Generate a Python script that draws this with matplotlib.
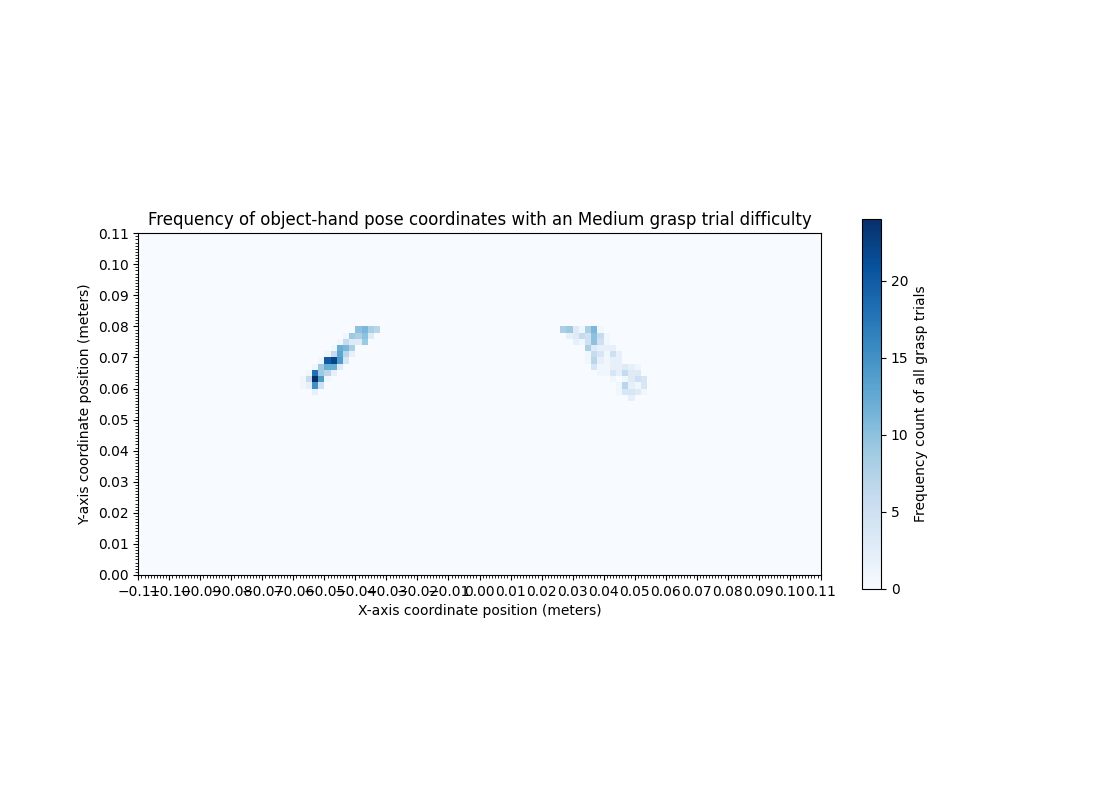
import numpy as np
import matplotlib
matplotlib.use("Agg")
import matplotlib.pyplot as plt
from matplotlib.ticker import MultipleLocator

# ---- data: histogram cells (bin width 0.002 m), per row: y_bottom -> (first x_left, counts)
left_rows_y = [0.078, 0.076, 0.074, 0.072, 0.070, 0.068, 0.066, 0.064, 0.062, 0.060, 0.058]
left_rows_x0 = [-0.040, -0.044, -0.046, -0.048, -0.050, -0.052, -0.054, -0.056, -0.058, -0.058, -0.054]
left_rows_counts = [
    [10, 11, 8, 7],
    [1, 9, 8, 10, 3],
    [1, 6, 3, 3, 9],
    [1, 12, 11, 8],
    [1, 6, 13, 7, 2],
    [1, 20, 22, 14, 4],
    [1, 9, 12, 12, 3],
    [1, 18, 9, 7, 2],
    [1, 6, 24, 14, 1],
    [1, 2, 15, 5],
    [2],
]

right_rows_y = [0.078, 0.076, 0.074, 0.072, 0.070, 0.068, 0.066, 0.064, 0.062, 0.060, 0.058, 0.056]
right_rows_x0 = [0.026, 0.028, 0.030, 0.034, 0.034, 0.034, 0.036, 0.038, 0.042, 0.044, 0.044, 0.048]
right_rows_counts = [
    [8, 9, 3, 1, 8, 11, 1],
    [2, 3, 6, 5, 10, 6, 1],
    [2, 1, 5, 10, 5, 1],
    [8, 3, 2, 2, 2],
    [1, 6, 4, 1, 5, 2],
    [1, 7, 2, 1, 2, 2],
    [4, 1, 1, 2, 2, 3, 2, 1],
    [1, 1, 4, 2, 6, 3, 3],
    [1, 0, 1, 3, 5, 4],
    [1, 7, 2, 1, 4],
    [1, 4, 4, 3, 1],
    [2],
]

x_ticks = np.round(np.arange(-0.11, 0.1101, 0.01), 2)
y_ticks = np.round(np.arange(0.0, 0.1101, 0.01), 2)
bin_w = 0.002
count_max = 24

title = "Frequency of object-hand pose coordinates with an Medium grasp trial difficulty"
xlabel = "X-axis coordinate position (meters)"
ylabel = "Y-axis coordinate position (meters)"
cbar_label = "Frequency count of all grasp trials"

# ---- expand rows into cell centres + weights
xs, ys, ws = [], [], []
for rows_y, rows_x0, rows_c in [(left_rows_y, left_rows_x0, left_rows_counts),
                                (right_rows_y, right_rows_x0, right_rows_counts)]:
    for yb, x0, counts in zip(rows_y, rows_x0, rows_c):
        for k, c in enumerate(counts):
            xs.append(x0 + k * bin_w + bin_w / 2)
            ys.append(yb + bin_w / 2)
            ws.append(c)

xedges = np.round(np.arange(-0.11, 0.11 + bin_w / 2, bin_w), 4)
yedges = np.round(np.arange(0.0, 0.11 + bin_w / 2, bin_w), 4)

fig = plt.figure(figsize=(11, 8), dpi=100)
ax = fig.add_axes([138.3 / 1100, 225 / 800, 682.4 / 1100, 341.8 / 800])
cmap = plt.get_cmap("Blues")
ax.set_facecolor(cmap(0.0))
h = ax.hist2d(xs, ys, bins=[xedges, yedges], weights=ws, cmap=cmap,
              vmin=0, vmax=count_max)

ax.set_xlim(-0.11, 0.11)
ax.set_ylim(0.0, 0.11)
ax.set_xticks(x_ticks)
ax.set_yticks(y_ticks)
ax.xaxis.set_minor_locator(MultipleLocator(0.001))
ax.yaxis.set_minor_locator(MultipleLocator(0.001))
ax.set_title(title, fontsize=12)
ax.set_xlabel(xlabel)
ax.set_ylabel(ylabel)

cax = fig.add_axes([862 / 1100, 211 / 800, 19 / 1100, 370 / 800])
cb = fig.colorbar(h[3], cax=cax)
cb.set_label(cbar_label)

fig.savefig("out.png", dpi=100)
